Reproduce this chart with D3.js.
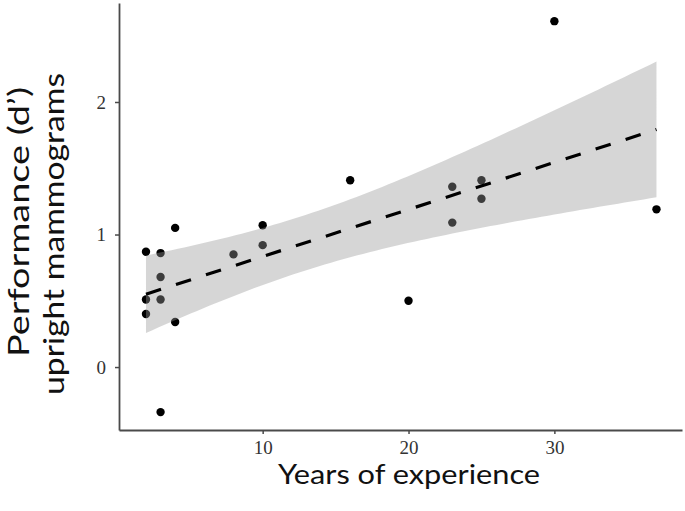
<!DOCTYPE html>
<html><head><meta charset="utf-8">
<script src="https://cdn.jsdelivr.net/npm/d3@7"></script>
<style>html,body{margin:0;padding:0;background:#fff;}svg{display:block;}</style>
</head><body>
<svg id="chart" width="685" height="511"></svg>
<script>
// Data
const years = [2, 3, 4, 3, 2, 3, 2, 4, 3, 8, 10, 10, 30, 16, 23, 25, 25, 37, 23, 20];
const dprime = [0.87, 0.86, 1.05, 0.68, 0.51, 0.51, 0.40, 0.34, -0.34, 0.85, 1.07, 0.92, 2.61, 1.41, 1.36, 1.41, 1.27, 1.19, 1.09, 0.50];
const xTicks = [10, 20, 30];
const yTicks = [0, 1, 2];
const xTitle = "Years of experience";
const yTitleLines = ["Performance (d\u2019)", "upright mammograms"];
const tCrit = 2.101; // t(0.975, df = 18)

const svg = d3.select("#chart");
const x = d3.scaleLinear().domain([0.15, 38.75]).range([119, 682]);
const y = d3.scaleLinear().domain([-0.475, 2.747]).range([430, 3]);

// Points (drawn first; the confidence band is laid over them)
const pts = years.map((v, i) => ({x: v, y: dprime[i]}));
svg.append("g").selectAll("circle").data(pts).join("circle")
  .attr("cx", d => x(d.x)).attr("cy", d => y(d.y)).attr("r", 4.2).attr("fill", "#000");

// Linear fit with 95% confidence band
const n = pts.length;
const mx = d3.mean(years), my = d3.mean(dprime);
const sxx = d3.sum(years, v => (v - mx) ** 2);
const sxy = d3.sum(pts, d => (d.x - mx) * (d.y - my));
const b = sxy / sxx, a = my - b * mx;
const s = Math.sqrt(d3.sum(pts, d => (d.y - a - b * d.x) ** 2) / (n - 2));
const [x0, x1] = d3.extent(years);
const grid = d3.range(0, 81).map(i => x0 + (x1 - x0) * i / 80);
const band = grid.map(v => {
  const fit = a + b * v;
  const se = s * Math.sqrt(1 / n + (v - mx) ** 2 / sxx);
  return {x: v, lo: fit - tCrit * se, hi: fit + tCrit * se, fit};
});
svg.append("path").datum(band)
  .attr("d", d3.area().x(d => x(d.x)).y0(d => y(d.lo)).y1(d => y(d.hi)))
  .attr("fill", "#999").attr("fill-opacity", 0.4);
svg.append("path").datum([band[0], band[band.length - 1]])
  .attr("d", d3.line().x(d => x(d.x)).y(d => y(d.fit)))
  .attr("fill", "none").attr("stroke", "#000").attr("stroke-width", 3.2)
  .attr("stroke-dasharray", "15.8,15.7");

// Axes
const axisColor = "#4a4a4a";
const gx = svg.append("g").attr("transform", "translate(0,430)")
  .call(d3.axisBottom(x).tickValues(xTicks).tickFormat(d3.format("d")).tickSize(4).tickPadding(7).tickSizeOuter(0));
const gy = svg.append("g").attr("transform", "translate(119,0)")
  .call(d3.axisLeft(y).tickValues(yTicks).tickFormat(d3.format("d")).tickSize(4).tickPadding(9).tickSizeOuter(0));
[gx, gy].forEach(g => {
  g.select(".domain").attr("stroke", axisColor).attr("stroke-width", 1.8);
  g.selectAll(".tick line").attr("stroke", axisColor).attr("stroke-width", 1.5);
  g.selectAll(".tick text").attr("fill", "#333")
    .style("font-family", "'Liberation Serif', 'DejaVu Serif', serif").style("font-size", "19px");
});

// Titles, stretched to the reference text widths
const titleFont = "Lato, 'Open Sans', sans-serif";
function title(tx, ty, rot, txt, len, fs) {
  return svg.append("text")
    .attr("transform", `translate(${tx},${ty})` + (rot ? " rotate(-90)" : ""))
    .attr("text-anchor", "middle").attr("fill", "#111")
    .style("font-family", titleFont).style("font-size", fs + "px").text(txt)
    .attr("textLength", len).attr("lengthAdjust", "spacingAndGlyphs");
}
title(409, 484, false, xTitle, 262, 26);
title(29, 222, true, yTitleLines[0], 270, 28);
title(64, 234, true, yTitleLines[1], 322, 28);
</script>
</body></html>
